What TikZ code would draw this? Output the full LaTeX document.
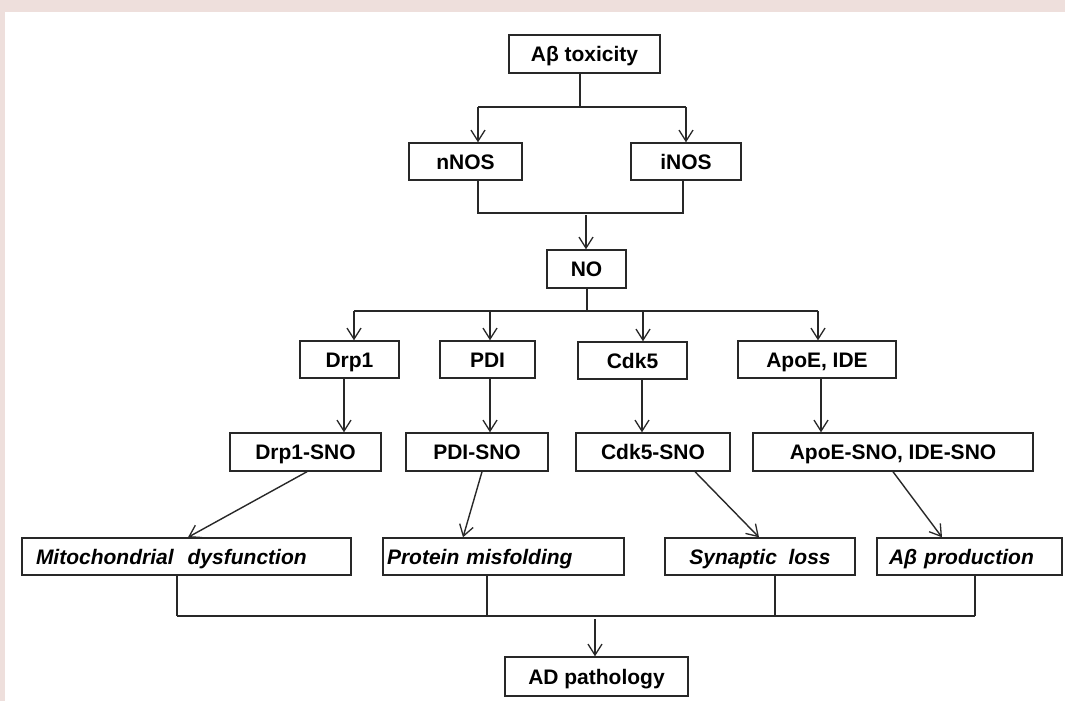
\documentclass[tikz,border=0pt]{standalone}
\usepackage{fontspec}
\setmainfont{Liberation Sans}
\usetikzlibrary{arrows.meta}
\definecolor{bandc}{RGB}{238,223,220}
\definecolor{lc}{RGB}{40,40,40}
\tikzset{
  box/.style={draw=lc, line width=1.4pt, fill=white, text=black,
    font=\bfseries\fontsize{21}{25}\selectfont, inner sep=0pt, minimum height=38pt,
    text height=15pt, text depth=0pt},
  eff/.style={box, font=\bfseries\itshape\fontsize{21}{25}\selectfont, minimum height=37pt},
  ln/.style={draw=lc, line width=1.4pt},
  arr/.style={ln, -{Straight Barb[length=11pt,width=14pt,line width=1.3pt]}}
}
\begin{document}
\begin{tikzpicture}[x=1pt,y=-1pt]
\useasboundingbox (0,0) rectangle (1065,701);
\fill[bandc] (0,0) rectangle (1065,701);
\fill[white] (5,12) rectangle (1065,701);

% nodes
\node[box, minimum width=151pt] (abt) at (584.5,54) {Aβ toxicity};
\node[box, minimum width=113pt, minimum height=37pt] (nnos) at (465.5,161.5) {nNOS};
\node[box, minimum width=110pt, minimum height=37pt] (inos) at (686,161.5) {iNOS};
\node[box, minimum width=79pt] (no) at (586.5,269) {NO};
\node[box, minimum width=99pt, minimum height=37pt] (drp) at (349.5,359.5) {Drp1};
\node[box, minimum width=95pt, minimum height=37pt] (pdi) at (487.5,359.5) {PDI};
\node[box, minimum width=109pt, minimum height=37pt] (cdk) at (632.5,360.5) {Cdk5};
\node[box, minimum width=158pt, minimum height=37pt] (apoe) at (817,359.5) {ApoE, IDE};
\node[box, minimum width=151pt] (drpsno) at (305.5,452) {Drp1-SNO};
\node[box, minimum width=142pt] (pdisno) at (477,452) {PDI-SNO};
\node[box, minimum width=154pt] (cdksno) at (653,452) {Cdk5-SNO};
\node[box, minimum width=280pt] (apoesno) at (893,452) {ApoE-SNO, IDE-SNO};
\node[eff, inner xsep=14pt, text width=301pt, align=left] (mito) at (186.5,556.5) {Mitochondrial\ \ dysfunction};
\node[eff, inner xsep=4pt, text width=233pt, align=left] (prot) at (503.5,556.5) {Protein misfolding};
\node[eff, minimum width=190pt] (syn) at (760,556.5) {Synaptic\ \ loss};
\node[eff, inner xsep=12pt, text width=161pt, align=left] (abp) at (969.5,556.5) {Aβ production};
\node[box, minimum width=183pt, minimum height=39pt] (adp) at (596.5,676.5) {AD pathology};

% level 1
\coordinate (c1) at (580,107);
\coordinate (an) at (478,107);
\coordinate (ai) at (686,107);
\draw[ln] (c1 |- abt.south) -- (c1);
\draw[ln] (an) -- (ai);
\draw[arr] (an) -- (an |- nnos.north);
\draw[arr] (ai) -- (ai |- inos.north);

% level 2
\coordinate (bn) at (478,213);
\coordinate (bi) at (683,213);
\coordinate (bno) at (586,215);
\draw[ln] (bn |- nnos.south) -- (bn) -- (bi) -- (bi |- inos.south);
\draw[arr] (bno) -- (bno |- no.north);

% level 3
\coordinate (cno) at (587,311);
\coordinate (d1) at (354,311);
\coordinate (d2) at (490,311);
\coordinate (d3) at (643,311);
\coordinate (d4) at (818,311);
\draw[ln] (cno |- no.south) -- (cno);
\draw[ln] (d1) -- (d4);
\draw[arr] (d1) -- (d1 |- drp.north);
\draw[arr] (d2) -- (d2 |- pdi.north);
\draw[arr] (d3) -- (d3 |- cdk.north);
\draw[arr] (d4) -- (d4 |- apoe.north);

% level 4
\coordinate (e1) at (344,0);
\coordinate (e2) at (490,0);
\coordinate (e3) at (642,0);
\coordinate (e4) at (821,0);
\draw[arr] (e1 |- drp.south) -- (e1 |- drpsno.north);
\draw[arr] (e2 |- pdi.south) -- (e2 |- pdisno.north);
\draw[arr] (e3 |- cdk.south) -- (e3 |- cdksno.north);
\draw[arr] (e4 |- apoe.south) -- (e4 |- apoesno.north);

% diagonals
\draw[arr] ([xshift=1.5pt]drpsno.south) -- ([xshift=1.5pt]mito.north);
\draw[arr] ([xshift=5pt]pdisno.south) -- ([xshift=-40.5pt]prot.north);
\draw[arr] ([xshift=42pt]cdksno.south) -- ([xshift=-1pt]syn.north);
\draw[arr] (apoesno.south) -- ([xshift=-27.5pt]abp.north);

% bottom
\coordinate (f1) at (177,616);
\coordinate (f2) at (487,616);
\coordinate (f3) at (775,616);
\coordinate (f4) at (975,616);
\coordinate (fa) at (595,619);
\draw[ln] (f1 |- mito.south) -- (f1);
\draw[ln] (f2 |- prot.south) -- (f2);
\draw[ln] (f3 |- syn.south) -- (f3);
\draw[ln] (f4 |- abp.south) -- (f4);
\draw[ln] (f1) -- (f4);
\draw[arr] (fa) -- (fa |- adp.north);
\end{tikzpicture}
\end{document}
